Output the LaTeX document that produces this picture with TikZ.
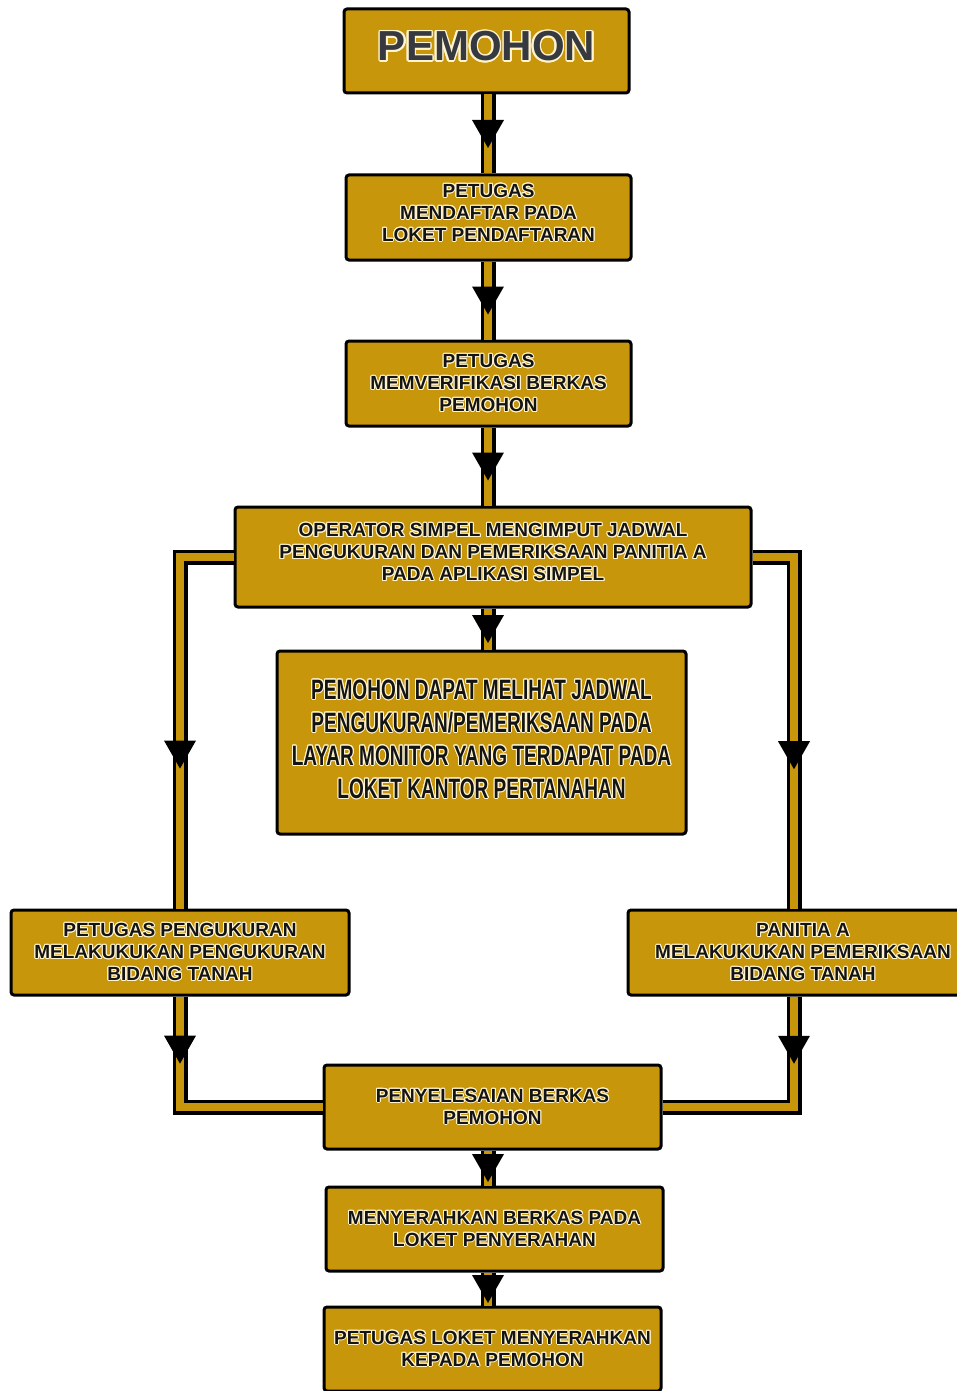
\documentclass[tikz,border=0pt]{standalone}
\usepackage{fontspec}
\setmainfont{Liberation Sans}
\newfontfamily\narrowsans{Liberation Sans}[FakeStretch=0.68]
\usepackage[copies]{contour}
\usetikzlibrary{positioning,decorations.markings}
\definecolor{flowgold}{HTML}{C8960A}
\definecolor{flowhalo}{HTML}{FFF4D0}
\definecolor{flowink}{HTML}{141414}
\definecolor{flowslate}{HTML}{363A40}
\contourlength{1pt}
\newcommand{\halo}[1]{\contour{flowhalo}{#1}}

\begin{document}
\begin{tikzpicture}[
  x=1pt, y=-1pt,
  box/.style={
    draw=black, line width=3pt, rounded corners=3pt, fill=flowgold,
    align=center, inner sep=0pt, text=flowink,
    font=\bfseries\fontsize{19}{22}\selectfont
  },
  link/.style={draw=black, line width=3.5pt, double=flowgold, double distance=8pt},
  tipat/.style={postaction={decorate, decoration={markings,
    mark=at position #1 with {\fill[black] (14pt,0) -- (-14pt,16pt) -- (-14pt,-16pt) -- cycle;}}}},
]
\path[use as bounding box, fill=white] (0,0) rectangle (956,1391);

% ---------------- main column
\node[box, minimum width=285pt, minimum height=84pt, text depth=10pt, text=flowslate,
  font=\bfseries\fontsize{42}{46}\selectfont] (p1) at (486.5,51)
  {\contourlength{1.6pt}\halo{PEMOHON}};
\node[box, minimum width=285pt, minimum height=85pt, text depth=10pt] (p2) at (488.5,217.5)
  {\halo{PETUGAS}\\\halo{MENDAFTAR PADA}\\\halo{LOKET PENDAFTARAN}};
\node[box, minimum width=285pt, minimum height=85pt] (p3) at (488.5,383.5)
  {\halo{PETUGAS}\\\halo{MEMVERIFIKASI BERKAS}\\\halo{PEMOHON}};
\node[box, minimum width=516pt, minimum height=100pt, text depth=10pt] (p4) at (493,557)
  {\halo{OPERATOR SIMPEL MENGIMPUT JADWAL}\\\halo{PENGUKURAN DAN PEMERIKSAAN PANITIA A}\\\halo{PADA APLIKASI SIMPEL}};
\node[box, minimum width=409pt, minimum height=183pt, text depth=7pt,
  font=\narrowsans\bfseries\fontsize{28}{33}\selectfont] (p5) at (481.5,742.5)
  {\halo{PEMOHON DAPAT MELIHAT JADWAL}\\\halo{PENGUKURAN/PEMERIKSAAN PADA}\\\halo{LAYAR MONITOR YANG TERDAPAT PADA}\\\halo{LOKET KANTOR PERTANAHAN}};

% ---------------- side branches
\node[box, minimum width=338pt, minimum height=85pt] (p6) at (180,952.5)
  {\halo{PETUGAS PENGUKURAN}\\\halo{MELAKUKUKAN PENGUKURAN}\\\halo{BIDANG TANAH}};
\node[box, minimum width=350pt, minimum height=85pt] (p7) at (803,952.5)
  {\halo{PANITIA A}\\\halo{MELAKUKUKAN PEMERIKSAAN}\\\halo{BIDANG TANAH}};

% ---------------- closing steps
\node[box, minimum width=337pt, minimum height=84pt] (p8) at (492.5,1107)
  {\halo{PENYELESAIAN BERKAS}\\\halo{PEMOHON}};
\node[box, minimum width=337pt, minimum height=84pt] (p9) at (494.5,1229)
  {\halo{MENYERAHKAN BERKAS PADA}\\\halo{LOKET PENYERAHAN}};
\node[box, minimum width=337pt, minimum height=84pt] (p10) at (492.5,1349)
  {\halo{PETUGAS LOKET MENYERAHKAN}\\\halo{KEPADA PEMOHON}};

% ---------------- connectors
\coordinate (spine) at (488,0);
\foreach \a/\b in {p1/p2, p2/p3, p3/p4, p4/p5, p8/p9, p9/p10}
  \draw[link, tipat=0.5] (\a.south -| spine) -- (\b.north -| spine);

\draw[link, tipat=0.62] (p4.west) -| (p6.north);
\draw[link, tipat=0.61] (p4.east) -| ([xshift=-9pt]p7.north);
\draw[link, tipat=0.21] (p6.south) |- (p8.west);
\draw[link, tipat=0.22] ([xshift=-9pt]p7.south) |- (p8.east);

\end{tikzpicture}
\end{document}
